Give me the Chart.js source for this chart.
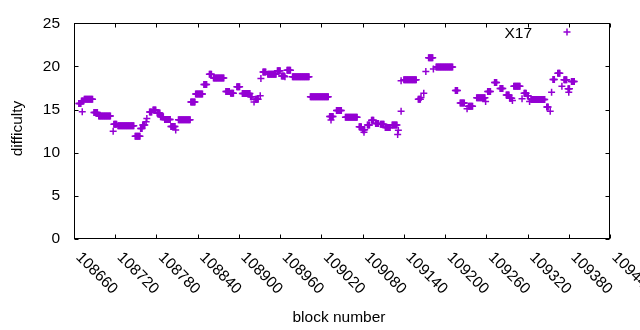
<!DOCTYPE html>
<html><head><meta charset="utf-8">
<script src="https://cdn.jsdelivr.net/npm/chart.js@4.4.0/dist/chart.umd.min.js"></script>
<style>html,body{margin:0;padding:0;background:#fff}#wrap{width:640px;height:330px;position:relative}</style>
</head><body><div id="wrap"><canvas id="c" width="640" height="330"></canvas></div>
<script>
const seriesName = 'X17';
const xTitle = 'block number';
const yTitle = 'difficulty';
const xTickLabels = [108660,108720,108780,108840,108900,108960,109020,109080,109140,109200,109260,109320,109380,109440];
const yTickLabels = [0,5,10,15,20,25];

// runs of consecutive blocks sharing one difficulty value (first block, last block, value)
const runFirstBlock = [108667,108671,108672,108675,108689,108696,108717,108718,108724,108749,108757,108760,108765,108766,108770,108775,108781,108786,108792,108801,108808,108812,108830,108837,108849,108857,108863,108881,108888,108897,108905,108917,108922,108924,108931,108932,108935,108942,108956,108962,108967,108970,108978,109004,109032,109034,109042,109055,109075,109080,109082,109087,109093,109099,109106,109113,109123,109131,109132,109136,109136,109140,109161,109165,109169,109172,109176,109183,109187,109215,109222,109232,109234,109246,109259,109262,109272,109280,109289,109294,109298,109300,109312,109315,109320,109323,109325,109348,109353,109355,109357,109364,109370,109373,109379,109380,109384];
const runLastBlock  = [108670,108674,108672,108687,108694,108713,108717,108722,108747,108756,108759,108763,108765,108766,108773,108779,108785,108790,108800,108807,108808,108829,108836,108847,108853,108860,108878,108886,108892,108901,108916,108919,108922,108928,108931,108932,108939,108954,108960,108966,108967,108975,109002,109030,109037,109034,109049,109072,109078,109083,109082,109090,109096,109103,109111,109120,109130,109131,109132,109136,109136,109158,109164,109165,109169,109172,109182,109183,109211,109218,109228,109232,109240,109258,109259,109266,109275,109284,109293,109297,109298,109309,109312,109318,109321,109323,109345,109350,109353,109355,109359,109367,109370,109377,109381,109380,109388];
const runDifficulty = [15.7,16.0,14.76,16.2,14.65,14.27,12.48,13.3,13.13,11.9,12.82,13.2,13.58,13.96,14.73,14.95,14.6,14.16,13.85,13.05,12.64,13.81,15.87,16.82,17.9,19.1,18.65,17.1,16.9,17.65,16.86,16.5,15.87,16.2,16.6,18.6,19.37,19.1,19.5,18.9,18.8,19.55,18.8,16.5,14.2,13.78,14.9,14.1,13.0,12.65,12.36,13.2,13.75,13.4,13.3,12.93,13.2,12.1,12.6,14.8,18.35,18.45,16.2,16.4,16.9,19.4,21.0,19.7,19.94,17.2,15.75,15.1,15.4,16.36,15.95,17.1,18.15,17.45,16.7,16.3,16.06,17.7,16.25,16.9,16.6,15.95,16.17,15.3,14.8,17.0,18.5,19.2,17.7,18.45,17.4,17.0,18.26];

const points = [];
runFirstBlock.forEach((first, i) => {
  for (let b = first; b <= runLastBlock[i]; b++) points.push({x: b, y: runDifficulty[i]});
});

const COLOR = '#9400d3';
const FAMILY = '"Liberation Sans", Arial, sans-serif';
const FSIZE = 15.5;
const FONT = FSIZE + 'px ' + FAMILY;

const framePlugin = {
  id: 'frame',
  afterDraw(chart) {
    const {ctx, chartArea: {left, right, top, bottom}, scales: {x, y}} = chart;
    ctx.save();
    ctx.strokeStyle = '#000'; ctx.lineWidth = 1;
    const L = Math.round(left) + 0.5, R = Math.round(right) - 0.5, T = Math.round(top) + 0.5, B = Math.round(bottom) - 0.5;
    ctx.strokeRect(L, T, R - L, B - T);
    ctx.beginPath();
    x.ticks.forEach(t => {
      const px = Math.round(x.getPixelForValue(t.value)) + 0.5;
      ctx.moveTo(px, B); ctx.lineTo(px, B - 4);
      ctx.moveTo(px, T); ctx.lineTo(px, T + 4);
    });
    y.ticks.forEach(t => {
      const py = Math.round(y.getPixelForValue(t.value)) + 0.5;
      ctx.moveTo(L, py); ctx.lineTo(L + 4, py);
      ctx.moveTo(R, py); ctx.lineTo(R - 4, py);
    });
    ctx.stroke();
    ctx.fillStyle = '#000'; ctx.font = FONT;
    x.ticks.forEach(t => {
      const px = x.getPixelForValue(t.value);
      ctx.save(); ctx.translate(px + 4.4, 255); ctx.rotate(Math.PI / 4);
      ctx.textAlign = 'left'; ctx.textBaseline = 'middle';
      ctx.fillText(String(t.value), 0, 0);
      ctx.restore();
    });
    ctx.textAlign = 'center'; ctx.textBaseline = 'alphabetic';
    ctx.fillText(xTitle, 339, 322);
    ctx.save(); ctx.translate(21.5, 128.5); ctx.rotate(-Math.PI / 2);
    ctx.fillText(yTitle, 0, 0); ctx.restore();
    ctx.textAlign = 'right';
    ctx.fillText(chart.data.datasets[0].label, 532, 37.5);
    ctx.strokeStyle = COLOR; ctx.lineWidth = 1.5;
    Chart.helpers.drawPoint(ctx, {pointStyle: 'cross', radius: 3.5, rotation: 0, borderWidth: 1.5}, 567, 32);
    ctx.restore();
  }
};

new Chart(document.getElementById('c'), {
  type: 'scatter',
  data: { datasets: [{
    label: seriesName, data: points,
    pointStyle: 'cross', pointRadius: 3.5, pointHoverRadius: 3.5,
    pointBorderWidth: 1.5, borderColor: COLOR, backgroundColor: COLOR
  }]},
  options: {
    responsive: false, animation: false, devicePixelRatio: 1, events: [],
    layout: { padding: { top: 20, right: 30, bottom: 0, left: 0 } },
    plugins: { legend: { display: false }, tooltip: { enabled: false } },
    scales: {
      x: {
        type: 'linear', min: xTickLabels[0], max: xTickLabels[xTickLabels.length - 1],
        afterBuildTicks: s => { s.ticks = xTickLabels.map(v => ({value: v})); },
        ticks: { display: false },
        grid: { display: false, drawTicks: false }, border: { display: false },
        afterFit: s => { s.height = 91; }
      },
      y: {
        type: 'linear', min: yTickLabels[0], max: yTickLabels[yTickLabels.length - 1],
        afterBuildTicks: s => { s.ticks = yTickLabels.map(v => ({value: v})); },
        ticks: { padding: 14, color: '#000', font: { family: FAMILY, size: FSIZE } },
        grid: { display: false, drawTicks: false }, border: { display: false },
        afterFit: s => { s.width = 74; }
      }
    }
  },
  plugins: [framePlugin]
});
</script>
</body></html>
